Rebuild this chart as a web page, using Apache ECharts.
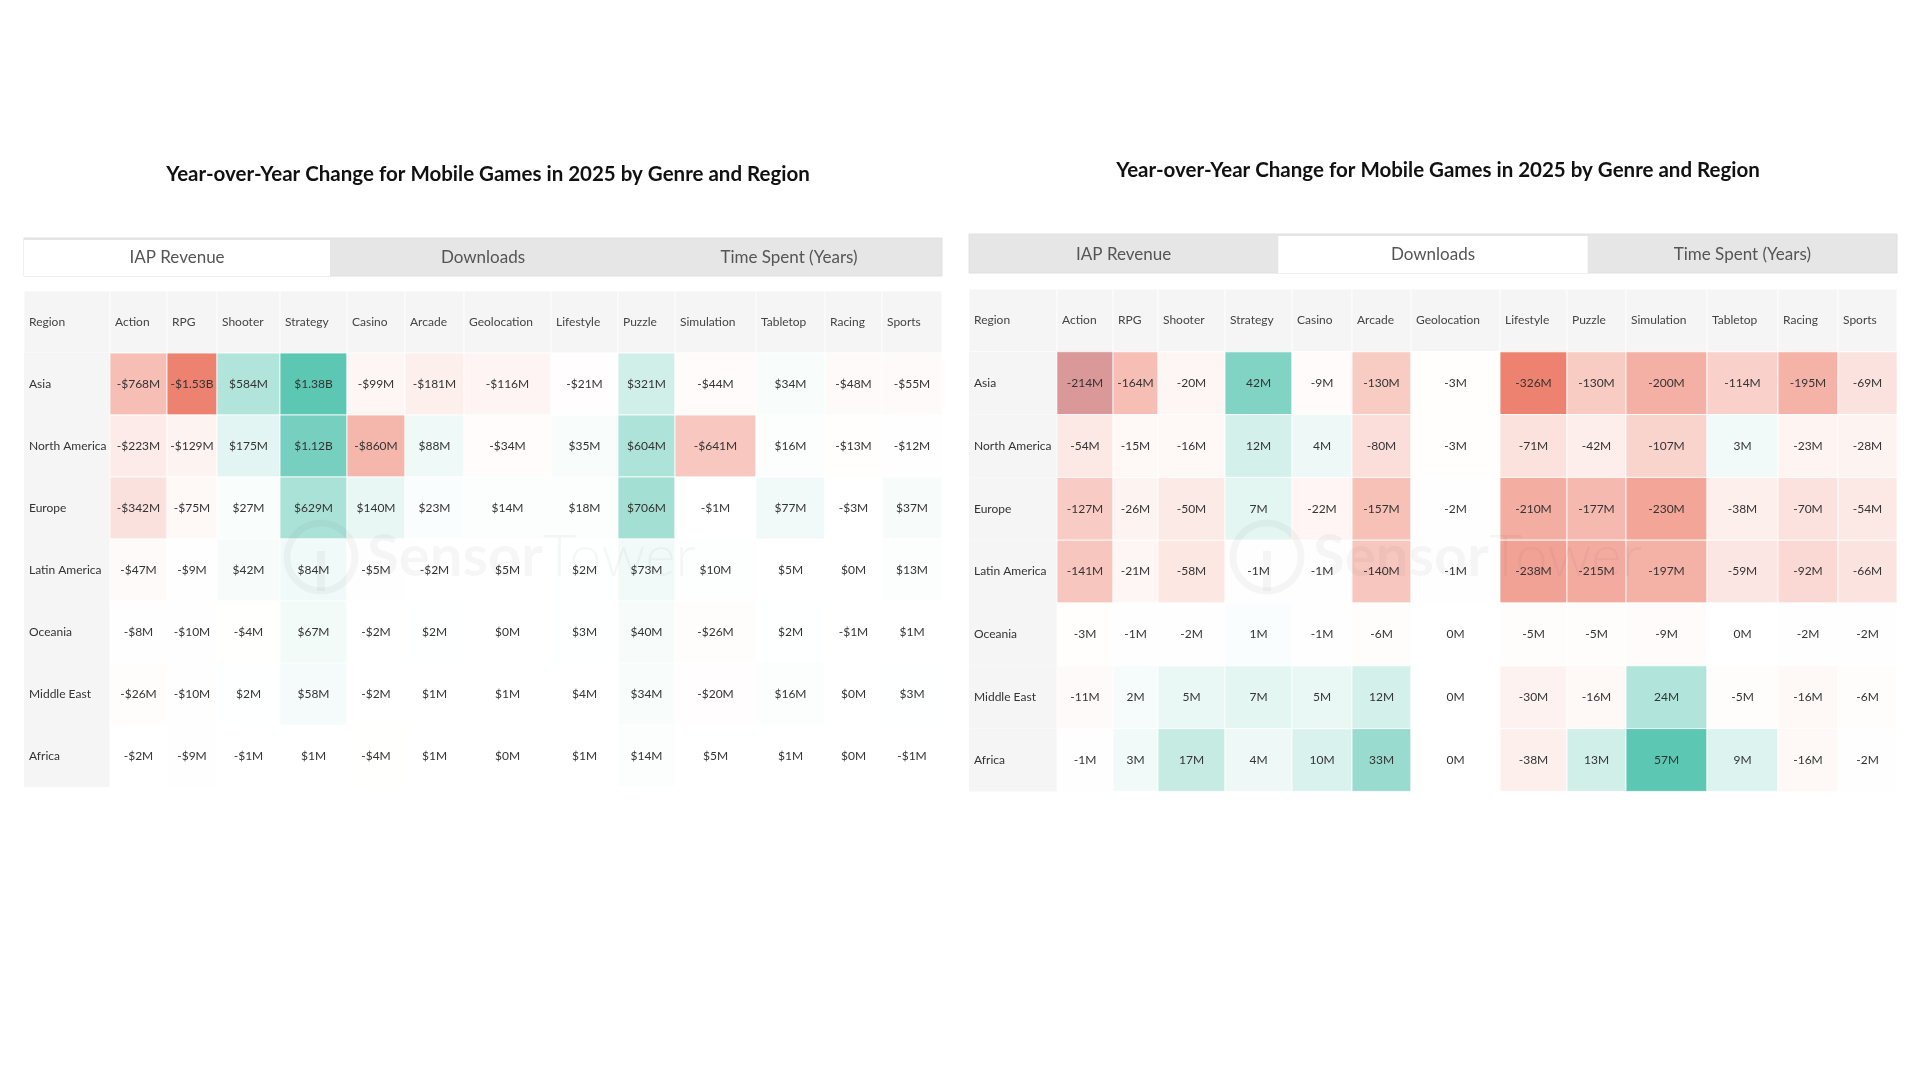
<!DOCTYPE html>
<html><head><meta charset="utf-8">
<script src="https://cdn.jsdelivr.net/npm/echarts@6/dist/echarts.min.js"></script>
<style>html,body{margin:0;padding:0;background:#fff}#c{width:1920px;height:1080px}</style>
</head><body><div id="c"></div>
<script>
// ---------------- DATA ----------------
const chartTitle = 'Year-over-Year Change for Mobile Games in 2025 by Genre and Region';
const tabLabels = ['IAP Revenue', 'Downloads', 'Time Spent (Years)'];
const regionHeader = 'Region';
const genres = ['Action','RPG','Shooter','Strategy','Casino','Arcade','Geolocation','Lifestyle','Puzzle','Simulation','Tabletop','Racing','Sports'];
const regions = ['Asia','North America','Europe','Latin America','Oceania','Middle East','Africa'];
// IAP revenue change, $ millions (rows = regions, cols = genres)
const iapRevenueM = [
  [-768, -1530, 584, 1380, -99, -181, -116, -21, 321, -44, 34, -48, -55],
  [-223, -129, 175, 1120, -860, 88, -34, 35, 604, -641, 16, -13, -12],
  [-342, -75, 27, 629, 140, 23, 14, 18, 706, -1, 77, -3, 37],
  [-47, -9, 42, 84, -5, -2, 5, 2, 73, 10, 5, 0, 13],
  [-8, -10, -4, 67, -2, 2, 0, 3, 40, -26, 2, -1, 1],
  [-26, -10, 2, 58, -2, 1, 1, 4, 34, -20, 16, 0, 3],
  [-2, -9, -1, 1, -4, 1, 0, 1, 14, 5, 1, 0, -1]
];
// Downloads change, millions
const downloadsM = [
  [-214, -164, -20, 42, -9, -130, -3, -326, -130, -200, -114, -195, -69],
  [-54, -15, -16, 12, 4, -80, -3, -71, -42, -107, 3, -23, -28],
  [-127, -26, -50, 7, -22, -157, -2, -210, -177, -230, -38, -70, -54],
  [-141, -21, -58, -1, -1, -140, -1, -238, -215, -197, -59, -92, -66],
  [-3, -1, -2, 1, -1, -6, 0, -5, -5, -9, 0, -2, -2],
  [-11, 2, 5, 7, 5, 12, 0, -30, -16, 24, -5, -16, -6],
  [-1, 3, 17, 4, 10, 33, 0, -38, 13, 57, 9, -16, -2]
];

// ---------------- LAYOUT / STYLE ----------------
const FONT = 'Lato, "Noto Sans", sans-serif';
const NEG = [238, 130, 112], POS = [92, 199, 178];
const panels = [
  { values: iapRevenueM, fmt: 'money', activeTab: 0,
    left: 24, top: 291, width: 918, rowH: 62, titleX: 483, titleY: 159, tabTop: 238, tabH: 38,
    colW: [86,57,50,63,67,58,59,87,67,57,81,69,57,60], wm: [321, 557] },
  { values: downloadsM, fmt: 'plain', activeTab: 1,
    left: 969, top: 289, width: 928, rowH: 62.8, titleX: 1433, titleY: 155, tabTop: 234, tabH: 39,
    colW: [88,56,45,67,67,60,59,89,67,59,81,71,60,59], wm: [1267, 557], hover: [0, 0] }
];

function fmtVal(v, kind) {
  if (kind === 'money') {
    const a = Math.abs(v);
    const s = a >= 1000 ? '$' + (a / 1000).toFixed(2) + 'B' : '$' + a + 'M';
    return (v < 0 ? '-' : '') + s;
  }
  return v + 'M';
}
function mix(end, t) {
  t = Math.max(0, Math.min(1, t));
  return 'rgb(' + end.map(c => Math.round(255 + (c - 255) * t)).join(',') + ')';
}

const option = { animation: false, backgroundColor: '#fff', title: [], grid: [], xAxis: [], yAxis: [], series: [], graphic: [] };

panels.forEach((p, pi) => {
  const flat = p.values.flat();
  const minV = Math.min(...flat), maxV = Math.max(...flat);
  const bounds = [0];
  p.colW.forEach(w => bounds.push(bounds[bounds.length - 1] + w));
  const cells = [];
  [regionHeader].concat(genres).forEach((g, c) => {
    cells.push({ x0: bounds[c], x1: bounds[c + 1], row: 0, kind: 'head', text: g, fill: '#f5f5f5' });
  });
  regions.forEach((r, ri) => {
    cells.push({ x0: bounds[0], x1: bounds[1], row: ri + 1, kind: 'region', text: r, fill: '#f5f5f5' });
    p.values[ri].forEach((v, ci) => {
      const fill = v < 0 ? mix(NEG, Math.pow(v / minV, 0.95)) : mix(POS, maxV ? Math.pow(v / maxV, 0.85) : 0);
      const hov = p.hover && p.hover[0] === ri && p.hover[1] === ci;
      cells.push({ x0: bounds[ci + 1], x1: bounds[ci + 2], row: ri + 1, kind: 'val', v: v,
        text: fmtVal(v, p.fmt), fill: fill, hover: hov });
    });
  });

  option.title.push({ text: chartTitle, left: p.titleX, top: p.titleY, textAlign: 'center',
    textStyle: { fontFamily: FONT, fontSize: 20.5, fontWeight: 'bold', color: '#111' } });
  option.grid.push({ left: p.left, top: p.top, width: p.width, height: p.rowH * 8 });
  option.xAxis.push({ type: 'value', gridIndex: pi, min: 0, max: bounds[bounds.length - 1], show: false });
  option.yAxis.push({ type: 'category', gridIndex: pi, inverse: true, show: false,
    data: [regionHeader].concat(regions) });
  option.series.push({
    type: 'custom', xAxisIndex: pi, yAxisIndex: pi,
    data: cells.map(c => [c.x0, c.x1, c.row, c.v == null ? 0 : c.v]),
    encode: { x: [0, 1], y: 2 },
    renderItem: function (params, api) {
      const c = cells[params.dataIndex];
      const a = api.coord([api.value(0), api.value(2)]);
      const b = api.coord([api.value(1), api.value(2)]);
      const h = api.size([0, 1])[1];
      const x = a[0], y = a[1] - h / 2, w = b[0] - a[0];
      const children = [{
        type: 'rect', shape: { x: x, y: y, width: w, height: h },
        style: { fill: c.fill, stroke: c.kind === 'region' ? null : 'rgba(255,255,255,0.8)', lineWidth: 1 }
      }];
      if (c.hover) children.push({ type: 'rect', shape: { x: x, y: y, width: w, height: h },
        style: { fill: 'rgba(90,60,120,0.16)' } });
      const left = c.kind !== 'val';
      children.push({ type: 'text', style: {
        text: c.text, x: left ? x + 5 : x + w / 2, y: a[1],
        align: left ? 'left' : 'center', verticalAlign: 'middle',
        fill: c.kind === 'head' ? '#444' : '#333', font: '12px ' + FONT } });
      return { type: 'group', children: children };
    }
  });

  // tabs
  const tw = p.width / 3;
  option.graphic.push({ type: 'rect', shape: { x: p.left, y: p.tabTop, width: p.width, height: p.tabH },
    style: { fill: '#e6e6e6', stroke: '#e0e0e0', lineWidth: 1 }, silent: true });
  option.graphic.push({ type: 'rect', shape: { x: p.left + tw * p.activeTab, y: p.tabTop + 2, width: tw, height: p.tabH - 2 },
    style: { fill: '#ffffff' }, silent: true });
  tabLabels.forEach((t, ti) => {
    option.graphic.push({ type: 'text', silent: true,
      style: { text: t, x: p.left + tw * ti + tw / 2, y: p.tabTop + p.tabH / 2 + 1, align: 'center', verticalAlign: 'middle',
        fill: '#555', font: '17px ' + FONT } });
  });
  // watermark
  option.graphic.push({ type: 'circle', silent: true, z: 100, shape: { cx: p.wm[0], cy: p.wm[1], r: 34 },
    style: { fill: 'none', stroke: 'rgba(0,0,0,0.035)', lineWidth: 7 } });
  option.graphic.push({ type: 'rect', silent: true, z: 100, shape: { x: p.wm[0] - 4, y: p.wm[1] - 6, width: 8, height: 40 },
    style: { fill: 'rgba(0,0,0,0.035)' } });
  option.graphic.push({ type: 'text', silent: true, z: 100,
    style: { text: '{a|Sensor}{b|Tower}', x: p.wm[0] + 46, y: p.wm[1], verticalAlign: 'middle', align: 'left',
      rich: { a: { fontFamily: FONT, fontSize: 58, fontWeight: 'bold', fill: 'rgba(0,0,0,0.035)' },
              b: { fontFamily: FONT, fontSize: 58, fontWeight: 300, fill: 'rgba(0,0,0,0.035)' } } } });
});

const chart = echarts.init(document.getElementById('c'));
chart.setOption(option);
</script>
</body></html>
